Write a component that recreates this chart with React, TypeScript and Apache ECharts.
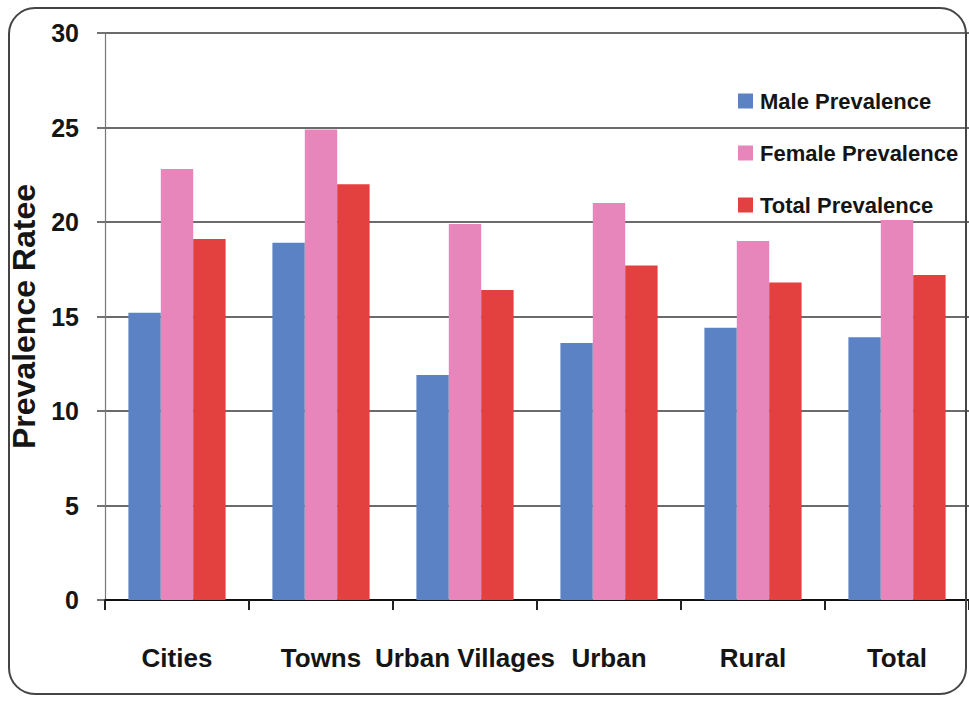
import React, { useEffect, useRef } from "react";
import * as echarts from "echarts";

const categories = ["Cities", "Towns", "Urban Villages", "Urban", "Rural", "Total"];
const malePrevalence = [15.2, 18.9, 11.9, 13.6, 14.4, 13.9];
const femalePrevalence = [22.8, 24.9, 19.9, 21.0, 19.0, 20.1];
const totalPrevalence = [19.1, 22.0, 16.4, 17.7, 16.8, 17.2];
const seriesNames = ["Male Prevalence", "Female Prevalence", "Total Prevalence"];
const yAxisTitle = "Prevalence Ratee";

const SANS = "'Liberation Sans', Arial, sans-serif";
const COLORS = ["#5b82c4", "#e686bb", "#e2413f"];

export default function App() {
  const ref = useRef<HTMLDivElement>(null);
  useEffect(() => {
    if (!ref.current) return;
    const chart = echarts.init(ref.current, undefined, { renderer: "svg" });
    const data = [malePrevalence, femalePrevalence, totalPrevalence];
    chart.setOption({
      animation: false,
      backgroundColor: "#ffffff",
      grid: { left: 105, top: 33, width: 872, height: 567, containLabel: false },
      legend: {
        orient: "vertical",
        left: 733,
        top: 81,
        icon: "rect",
        itemWidth: 15,
        itemHeight: 15,
        itemGap: 22,
        data: seriesNames,
        textStyle: {
          fontFamily: SANS,
          fontWeight: "bold",
          fontSize: 22,
          lineHeight: 30,
          color: "#151515",
          padding: [0, 0, 0, 2],
        },
      },
      xAxis: {
        type: "category",
        data: categories,
        boundaryGap: true,
        axisLine: { show: true, lineStyle: { color: "#111", width: 2 } },
        axisTick: { show: true, length: 10, lineStyle: { color: "#222", width: 2 } },
        axisLabel: {
          margin: 45,
          fontFamily: SANS,
          fontWeight: "bold",
          fontSize: 26,
          color: "#151515",
          interval: 0,
        },
        splitLine: { show: false },
      },
      yAxis: {
        type: "value",
        min: 0,
        max: 30,
        interval: 5,
        name: yAxisTitle,
        nameLocation: "middle",
        nameGap: 58,
        nameRotate: 90,
        nameTextStyle: {
          fontFamily: SANS,
          fontWeight: "bold",
          fontSize: 32,
          color: "#151515",
        },
        axisLine: { show: true, lineStyle: { color: "#777", width: 1.2 } },
        axisTick: { show: true, length: 8, lineStyle: { color: "#444", width: 1.5 } },
        axisLabel: {
          margin: 26,
          fontFamily: SANS,
          fontWeight: "bold",
          fontSize: 25,
          color: "#151515",
        },
        splitLine: { show: true, lineStyle: { color: "#3a3a3a", width: 1.6 } },
      },
      series: seriesNames.map((name, i) => ({
        name,
        type: "bar",
        data: data[i],
        barGap: "0%",
        barCategoryGap: "32.5%",
        itemStyle: { color: COLORS[i] },
      })),
      graphic: [
        {
          type: "rect",
          shape: { x: 9, y: 8, width: 957, height: 686, r: 26 },
          style: { fill: "none", stroke: "#444", lineWidth: 2 },
          z: 100,
          silent: true,
        },
      ],
    });
    return () => chart.dispose();
  }, []);
  return (
    <div
      ref={ref}
      style={{ position: "fixed", left: 0, top: 0, width: 969, height: 704 }}
    />
  );
}
